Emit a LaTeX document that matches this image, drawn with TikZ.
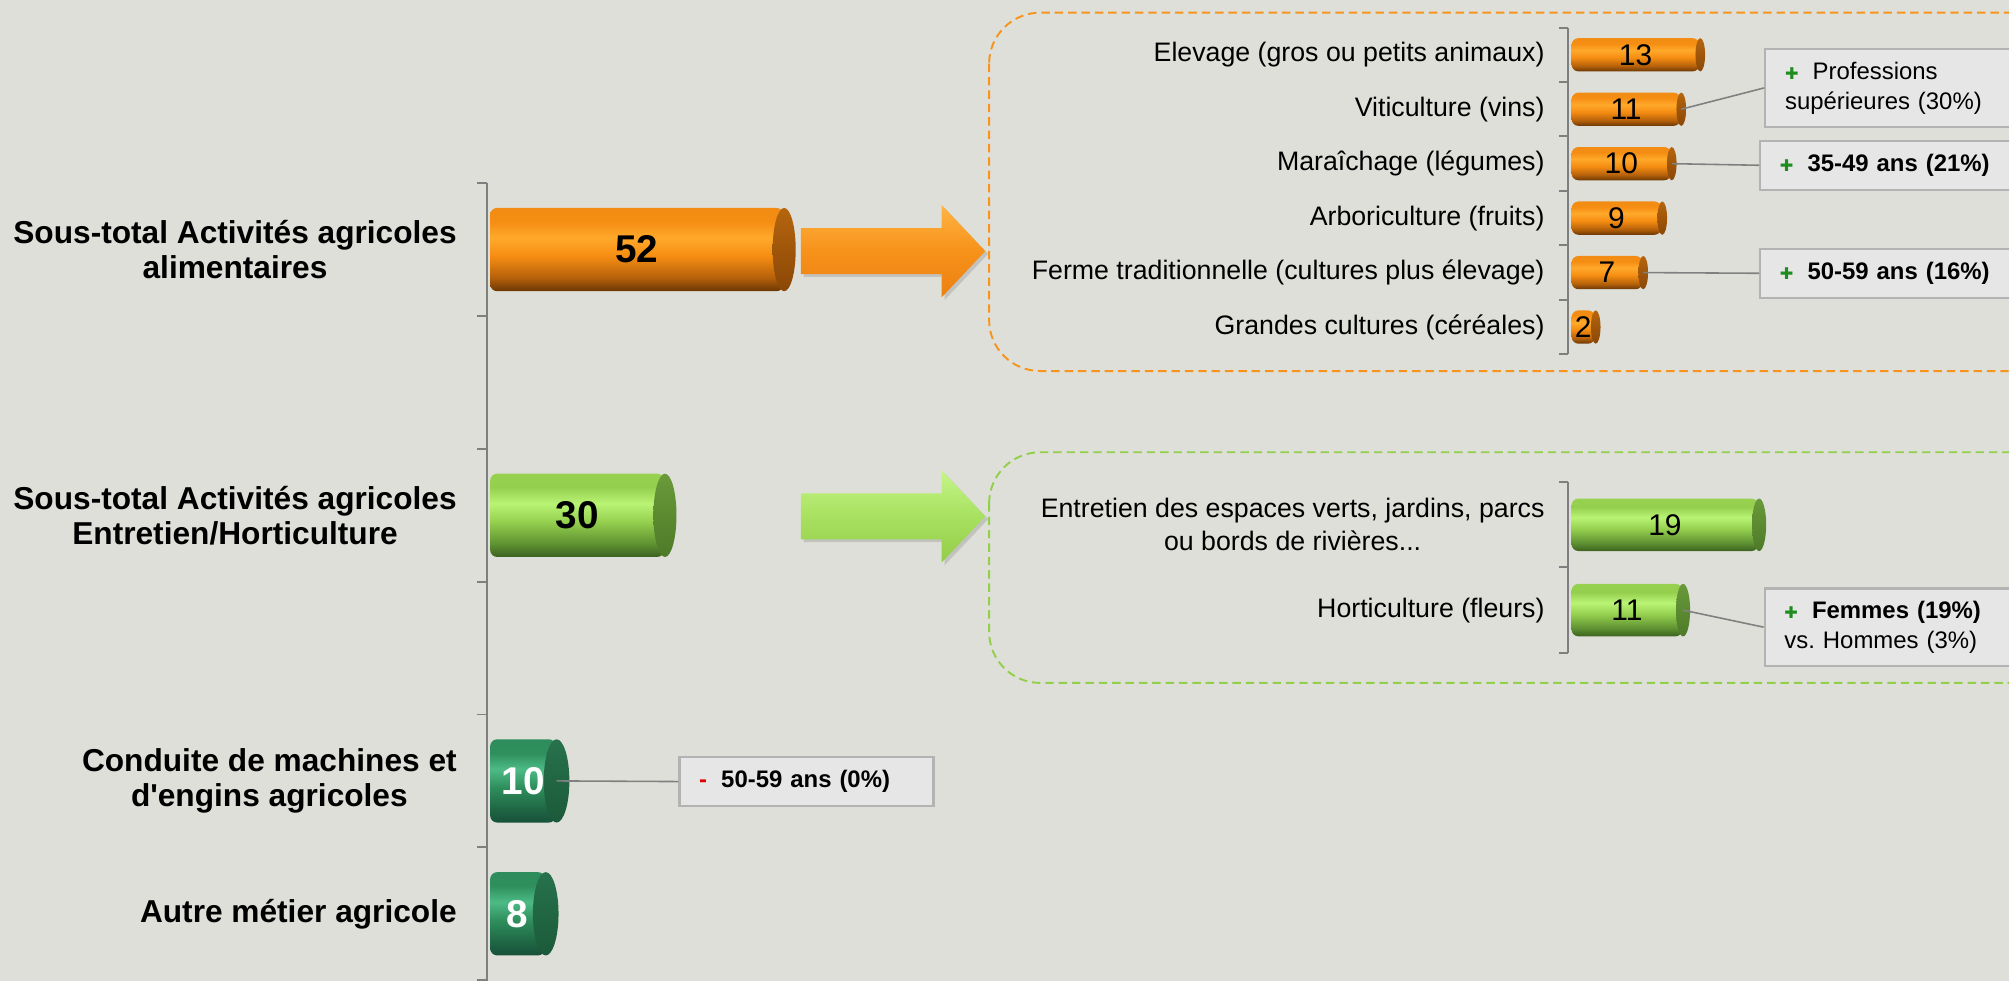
\documentclass[tikz,border=0pt]{standalone}
\usepackage{fontspec}
\setmainfont{Liberation Sans}
\newfontfamily\symfont{DejaVu Sans}
\usetikzlibrary{shapes,shadows,positioning}

\definecolor{bgfill}{HTML}{DFDFD9}
\definecolor{axisgrey}{HTML}{7F7F7F}
\definecolor{linegrey}{HTML}{808080}
\definecolor{boxgrey}{HTML}{B3B3B3}
\definecolor{boxfill}{HTML}{E6E6E6}
\definecolor{plusgreen}{HTML}{1E8C1E}
\definecolor{minusred}{HTML}{E00000}
\definecolor{odash}{HTML}{F7941D}
\definecolor{gdash}{HTML}{92CF4A}
% cylinder colours
\definecolor{otop}{HTML}{F28C14}
\definecolor{ohigh}{HTML}{FFA92B}
\definecolor{omain}{HTML}{F58D12}
\definecolor{olow}{HTML}{B4600A}
\definecolor{obot}{HTML}{6A3704}
\definecolor{ocaptop}{HTML}{B5650E}
\definecolor{ocapbot}{HTML}{8A4706}
\definecolor{gtop}{HTML}{97D150}
\definecolor{ghigh}{HTML}{B9F475}
\definecolor{gmain}{HTML}{94CF4E}
\definecolor{glow}{HTML}{5F9232}
\definecolor{gbot}{HTML}{3C6220}
\definecolor{gcaptop}{HTML}{6A9A3A}
\definecolor{gcapbot}{HTML}{4E7A28}
\definecolor{dtop}{HTML}{2F8D5D}
\definecolor{dhigh}{HTML}{4DBB86}
\definecolor{dmain}{HTML}{2E8E5C}
\definecolor{dlow}{HTML}{1F6644}
\definecolor{dbot}{HTML}{17503A}
\definecolor{dcaptop}{HTML}{27724C}
\definecolor{dcapbot}{HTML}{1B5A3A}
\definecolor{oarrtop}{HTML}{FFB444}
\definecolor{oarrmid}{HTML}{F7921A}
\definecolor{oarrbot}{HTML}{EB8012}
\definecolor{garrtop}{HTML}{C5F589}
\definecolor{garrmid}{HTML}{A8E160}
\definecolor{garrbot}{HTML}{92CC47}

\pgfdeclareverticalshading{orangecyl}{100bp}{color(0bp)=(obot); color(25bp)=(obot); color(33bp)=(olow); color(46bp)=(omain); color(57bp)=(ohigh); color(67bp)=(omain); color(75bp)=(otop); color(100bp)=(otop)}
\pgfdeclareverticalshading{lgreencyl}{100bp}{color(0bp)=(gbot); color(25bp)=(gbot); color(33bp)=(glow); color(46bp)=(gmain); color(57bp)=(ghigh); color(67bp)=(gmain); color(75bp)=(gtop); color(100bp)=(gtop)}
\pgfdeclareverticalshading{dgreencyl}{100bp}{color(0bp)=(dbot); color(25bp)=(dbot); color(33bp)=(dlow); color(46bp)=(dmain); color(57bp)=(dhigh); color(67bp)=(dmain); color(75bp)=(dtop); color(100bp)=(dtop)}

\newcommand{\dpx}{0.3642pt}
\newcommand{\plusmark}{\textcolor{plusgreen}{\symfont\fontsize{4.6}{5}\selectfont ✚}\hspace{4pt}}
\newcommand{\minusmark}{\textcolor{minusred}{\textbf{-}}\hspace{4pt}}

\tikzstyle{axisline}=[draw=axisgrey, line width=0.55pt]
\tikzstyle{cylbody}=[rectangle, rounded corners=2pt, inner sep=0pt, anchor=west, shade]
\tikzstyle{obody}=[cylbody, shading=orangecyl]
\tikzstyle{lgbody}=[cylbody, shading=lgreencyl]
\tikzstyle{dgbody}=[cylbody, shading=dgreencyl, text=white]
\tikzstyle{cylcap}=[ellipse, inner sep=0pt]
\tikzstyle{ocap}=[cylcap, top color=ocaptop, bottom color=ocapbot]
\tikzstyle{lgcap}=[cylcap, top color=gcaptop, bottom color=gcapbot]
\tikzstyle{dgcap}=[cylcap, top color=dcaptop, bottom color=dcapbot]
\tikzstyle{bigval}=[font=\bfseries\fontsize{11}{13}\selectfont]
\tikzstyle{smallval}=[font=\fontsize{8.5}{10}\selectfont]
\tikzstyle{mainlabel}=[anchor=east, align=center, inner sep=0pt, font=\bfseries\fontsize{9}{10}\selectfont]
\tikzstyle{sublabel}=[anchor=east, align=center, inner sep=0pt, font=\fontsize{7.6}{9.3}\selectfont]
\tikzstyle{callout}=[rectangle, draw=boxgrey, fill=boxfill, line width=0.6pt, anchor=west, inner xsep=5.6pt, inner ysep=0pt, align=left, text width=65pt, font=\fontsize{6.8}{8.5}\selectfont]
\tikzstyle{callline}=[draw=linegrey, line width=0.45pt]
\tikzstyle{obox}=[draw=odash, dash pattern=on 2.4pt off 1.4pt, line width=0.55pt, rounded corners=14.5pt]
\tikzstyle{gbox}=[obox, draw=gdash]
\tikzstyle{oarrow}=[top color=oarrtop, bottom color=oarrbot, middle color=oarrmid, drop shadow={opacity=0.3, shadow xshift=0.8pt, shadow yshift=-0.8pt}]
\tikzstyle{garrow}=[top color=garrtop, bottom color=garrbot, middle color=garrmid, drop shadow={opacity=0.3, shadow xshift=0.8pt, shadow yshift=-0.8pt}]

\begin{document}
\begin{tikzpicture}[x=0.0128cm, y=-0.0128cm]
    \useasboundingbox (0,0) rectangle (1568,765.6);
    \clip (0,0) rectangle (1568,765.6);
    \fill[bgfill] (0,0) rectangle (1568,765.6);

    % dashed frames round the details
    \draw[obox] (772,9.9) rectangle (1610,289.6);
    \draw[gbox] (772,353) rectangle (1610,533);

    % axes with their ticks
    \draw[axisline] (380,143) -- (380,766);
    \foreach \k in {0,...,6}
        \draw[axisline] (372.5,{143+103.67*\k}) -- (380,{143+103.67*\k});
    \draw[axisline] (1224,21.5) -- (1224,276.5);
    \foreach \k in {0,...,6}
        \draw[axisline] (1217,{21.5+42.5*\k}) -- (1224,{21.5+42.5*\k});
    \draw[axisline] (1224,376.3) -- (1224,509.5);
    \foreach \k in {0,...,2}
        \draw[axisline] (1217,{376.3+66.6*\k}) -- (1224,{376.3+66.6*\k});

    % block arrows
    \path[oarrow] (625,178) -- (735,178) -- (735,160) -- (769,196) -- (735,232) -- (735,214) -- (625,214) -- cycle;
    \path[garrow] (625,385) -- (735,385) -- (735,367) -- (769,403) -- (735,439) -- (735,421) -- (625,421) -- cycle;

    % main bars
    \foreach \name/\y/\val/\cw/\bst/\cst in {b52/194.8/52/18/obody/ocap, b30/402.2/30/18/lgbody/lgcap, b10/609.5/10/20/dgbody/dgcap, b8/713.2/8/20/dgbody/dgcap}
    {
        \node[\bst, bigval, minimum width={(9+4.23*\val)*\dpx}, minimum height=65*\dpx] (\name) at (382,\y) {\val\hspace{4.6pt}};
        \node[\cst, minimum width=\cw*\dpx, minimum height=65*\dpx] (\name-c) at (\name.east) {};
    }
    \node[mainlabel] (alim) at (357,194.8) {Sous-total Activités agricoles\\alimentaires};
    \node[mainlabel] (entr) at (357,402.2) {Sous-total Activités agricoles\\Entretien/Horticulture};
    \node[mainlabel] (cond) at (357,609.5) {Conduite de machines et\\d\textquotesingle engins agricoles};
    \node[mainlabel] (autre) at (357,713.2) {Autre métier agricole};

    % detail of food activities
    \foreach \name/\y/\val/\lab in {elev/42.75/13/Elevage (gros ou petits animaux), viti/85.25/11/Viticulture (vins), mara/127.75/10/Maraîchage (légumes), arbo/170.25/9/Arboriculture (fruits), ferme/212.75/7/Ferme traditionnelle (cultures plus élevage), gdes/255.25/2/Grandes cultures (céréales)}
    {
        \node[obody, smallval, minimum width={(3.5+7.42*\val)*\dpx}, minimum height=26*\dpx] (\name) at (1226,\y) {\val};
        \node[ocap, minimum width=7.5*\dpx, minimum height=26*\dpx] (\name-c) at (\name.east) {};
        \node[sublabel] (\name-l) at (1206,\y) {\lab};
    }

    % detail of upkeep / horticulture
    \foreach \name/\y/\val/\lab in {espv/409.6/19/{Entretien des espaces verts, jardins, parcs\\ou bords de rivières...}, horti/476.2/11/Horticulture (fleurs)}
    {
        \node[lgbody, smallval, minimum width={(4.9+7.42*\val)*\dpx}, minimum height=41*\dpx] (\name) at (1226,\y) {\val};
        \node[lgcap, minimum width=11*\dpx, minimum height=41*\dpx] (\name-c) at (\name.east) {};
        \node[sublabel] (\name-l) at (1206,\y) {\lab};
    }

    % callouts
    \node[callout, minimum height=60.8*\dpx] (notePro) at (1377,68.6) {\plusmark Professions\\supérieures (30\%)};
    \node[callout, minimum height=38*\dpx] (note3549) at (1373,129) {\plusmark\textbf{35-49 ans (21\%)}};
    \node[callout, minimum height=38*\dpx] (note5059) at (1373,213.3) {\plusmark\textbf{50-59 ans (16\%)}};
    \node[callout, minimum height=60.4*\dpx] (noteFem) at (1376.5,489.5) {\plusmark\textbf{Femmes (19\%)}\\vs.\ Hommes (3\%)};
    \node[callout, text width=61pt, minimum height=38.5*\dpx] (noteCond) at (529.5,610) {\minusmark\textbf{50-59 ans (0\%)}};

    \draw[callline] (viti-c.center) -- (notePro.west);
    \draw[callline] (mara-c.center) -- (note3549.west);
    \draw[callline] (ferme-c.center) -- (note5059.west);
    \draw[callline] (horti-c.center) -- (noteFem.west);
    \draw[callline] (b10-c.center) -- (noteCond.west);
\end{tikzpicture}
\end{document}
